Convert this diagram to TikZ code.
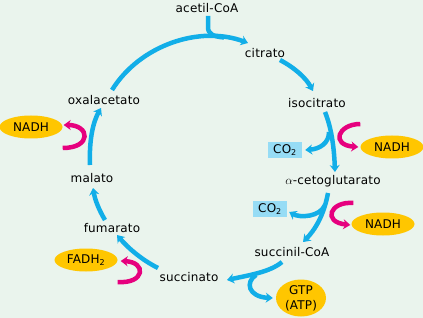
\documentclass[tikz,border=0pt]{standalone}
\usepackage{fontspec}
\setmainfont{DejaVu Sans}[LetterSpace=1.5]
\usetikzlibrary{arrows.meta,shapes.geometric,calc}
\definecolor{bgc}{HTML}{EAF4ED}
\definecolor{cyc}{HTML}{12AEE8}
\definecolor{mag}{HTML}{E6007E}
\definecolor{yel}{HTML}{FFC600}
\definecolor{boxc}{HTML}{96DCF5}
\begin{document}
\begin{tikzpicture}[x=1pt,y=-1pt,
  lbl/.style={inner sep=0pt, font=\fontsize{12}{13}\selectfont},
  oval/.style={ellipse, fill=yel, inner sep=0pt, minimum width=63pt, minimum height=23pt, font=\fontsize{12}{13}\selectfont},
  cobox/.style={fill=boxc, inner sep=0pt, minimum width=34pt, minimum height=16pt, font=\fontsize{12}{13}\selectfont},
  tip/.style={-{Stealth[length=7pt,width=10pt]}},
  cyl/.style={draw=cyc, line width=4.5pt, tip},
  bra/.style={draw=cyc, line width=4.5pt, tip},
  mg/.style={draw=mag, line width=4.5pt, tip},
  plain/.style={draw=cyc, line width=4.5pt}]
\fill[bgc] (0,0) rectangle (423,318);
\useasboundingbox (0,0) rectangle (423,318);
% labels
\node[lbl] (acetil) at (207,8) {acetil-CoA};
\node[lbl] (citrato) at (265,53) {citrato};
\node[lbl] (iso) at (317,103) {isocitrato};
\node[lbl] (akg) at (333,181) {$\alpha$-cetoglutarato};
\node[lbl] (sucoa) at (292,252) {succinil-CoA};
\node[lbl] (succ) at (189,277) {succinato};
\node[lbl] (fum) at (112,228) {fumarato};
\node[lbl] (mal) at (92,178) {malato};
\node[lbl] (oxal) at (104,100) {oxalacetato};
% ovals and boxes
\node[oval] (n1) at (31,127) {NADH};
\node[oval] (n2) at (392,147) {NADH};
\node[oval] (n3) at (383,224) {NADH};
\node[oval] (fadh) at (86,260) {FADH\textsubscript{2}};
\node[oval, minimum width=50pt, minimum height=37pt, align=center] (gtp) at (301,298) {GTP\\[2pt](ATP)};
\node[cobox] (co1) at (285,150) {CO\textsubscript{2}};
\node[cobox] (co2) at (270,209) {CO\textsubscript{2}};
\coordinate (j1) at (224,37.5);
% cycle
\draw[cyl] ($(oxal)+(8,-10)$) .. controls (140,45) and (200,25) .. ($(citrato)+(-17,-10)$);
\draw[plain] ($(acetil)+(1,8)$) -- (208,27) .. controls (208,34) and (213,36.5) .. (j1);
\draw[cyl] ($(citrato)+(15,7)$) .. controls (295,68) and (306,78) .. ($(iso)+(-4,-12)$);
\draw[cyl] ($(iso)+(8,9)$) .. controls (331,127) and (334,145) .. ($(akg)+(2,-9)$);
\draw[bra] (329,132) .. controls (329,143) and (320,149) .. ($(co1.east)+(3,0)$);
\draw[mg] ($(n2.west)+(0,-23)$) .. controls (338,124) and (330,145) .. ($(n2.west)+(-2,0)$);
\draw[cyl] ($(akg)+(-5,12)$) .. controls (324,215) and (315,230) .. ($(sucoa)+(11,-10)$);
\draw[bra] (325,205) .. controls (320,217) and (300,218) .. ($(co2.east)+(2,3)$);
\draw[mg] ($(n3.west)+(2,-21)$) .. controls (330,201) and (322,222) .. ($(n3.west)+(-1,1)$);
\draw[cyl] ($(sucoa)+(-10,10)$) .. controls (270,272) and (250,275) .. ($(succ)+(38,3)$);
\draw[bra] (256,275) .. controls (245,282) and (248,297) .. ($(gtp.west)+(-3,0)$);
\draw[cyl] ($(succ)+(-31,-9)$) .. controls (142,260) and (128,248) .. ($(fum)+(5,7)$);
\draw[mg] ($(fadh.east)+(0,22)$) .. controls (145,284) and (147,262) .. ($(fadh.east)+(3,1)$);
\draw[cyl] ($(fum)+(-7,-8)$) .. controls (99,210) and (95,200) .. ($(mal)+(1,10)$);
\draw[cyl] ($(mal)+(-2,-13)$) .. controls (89,140) and (93,122) .. ($(oxal)+(-3,8)$);
\draw[mg] ($(n1.east)+(0,21)$) .. controls (92,148) and (90,125) .. ($(n1.east)+(1,-2)$);
\end{tikzpicture}
\end{document}
